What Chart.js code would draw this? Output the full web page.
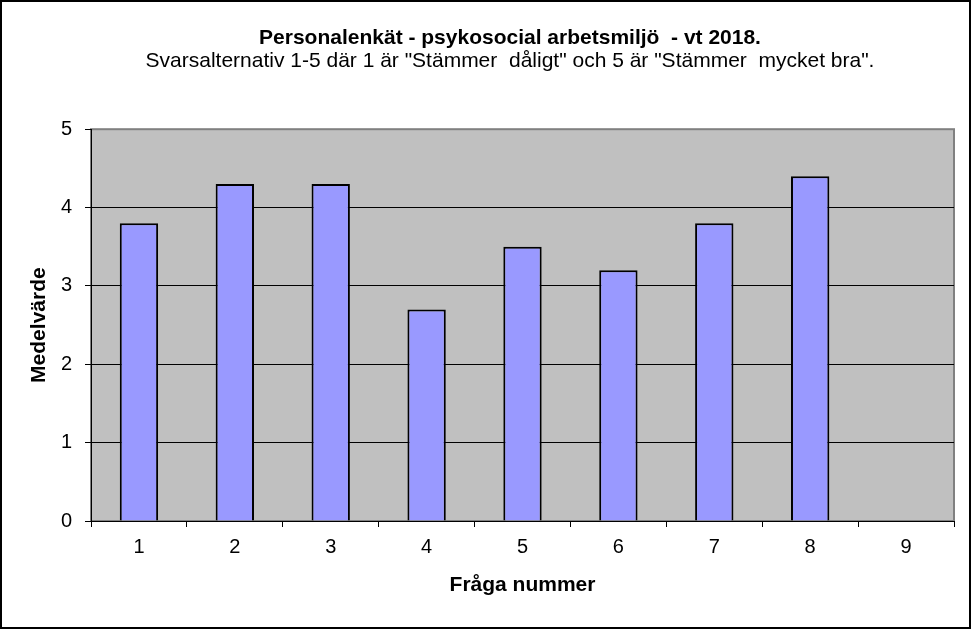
<!DOCTYPE html>
<html>
<head>
<meta charset="utf-8">
<script src="https://cdn.jsdelivr.net/npm/chart.js@4.4.0/dist/chart.umd.min.js"></script>
<style>
  body { margin: 0; background: #fff; }
  #wrap { width: 975px; height: 631px; }
</style>
</head>
<body>
<div id="wrap"><canvas id="medel"></canvas></div>
<script>
var fragor = ["1", "2", "3", "4", "5", "6", "7", "8", "9"];
var medelvarden = [3.8, 4.3, 4.3, 2.7, 3.5, 3.2, 3.8, 4.4, null];
var yTicks = [0, 1, 2, 3, 4, 5];

var rubrik = "Personalenkät - psykosocial arbetsmiljö  - vt 2018.";
var underrubrik = "Svarsalternativ 1-5 där 1 är \"Stämmer  dåligt\" och 5 är \"Stämmer  mycket bra\".";

var typsnitt = "Liberation Sans, Arial, sans-serif";

// gray plot area + outer frame
var bakgrund = {
  id: "bakgrund",
  afterLayout: function(chart) {
    // title + subtitle sit a bit right of the canvas centre in the original
    chart.boxes.forEach(function(b) {
      if (b.position === "top" && !b.axis) { b.left += 66; }
    });
  },
  beforeDraw: function(chart) {
    var ctx = chart.ctx, a = chart.chartArea;
    ctx.save();
    ctx.fillStyle = "#ffffff";
    ctx.fillRect(0, 0, chart.width, chart.height);
    ctx.strokeStyle = "#000000";
    ctx.lineWidth = 2;
    ctx.strokeRect(1, 1, 969, 627);
    ctx.fillStyle = "#c0c0c0";
    ctx.fillRect(a.left, a.top, a.right - a.left, a.bottom - a.top);
    ctx.strokeStyle = "#808080";
    ctx.lineWidth = 2;
    ctx.strokeRect(a.left, a.top, a.right - a.left, a.bottom - a.top);
    ctx.restore();
  }
};

var ctx = document.getElementById("medel").getContext("2d");
var chart = new Chart(ctx, {
  type: "bar",
  data: {
    labels: fragor,
    datasets: [
      {
        data: medelvarden,
        backgroundColor: "#9999ff",
        borderColor: "#000000",
        borderWidth: 2,
        barPercentage: 0.4,
        categoryPercentage: 1.0
      }
    ]
  },
  options: {
    responsive: true,
    maintainAspectRatio: false,
    animation: false,
    layout: { padding: { left: 0, right: 21, top: 0, bottom: 0 } },
    plugins: {
      legend: { display: false },
      tooltip: { enabled: false },
      title: {
        display: true,
        text: rubrik,
        color: "#000",
        font: { family: typsnitt, size: 21, weight: "bold", lineHeight: 1.1 },
        padding: { top: 27, bottom: 0 }
      },
      subtitle: {
        display: true,
        text: underrubrik,
        color: "#000",
        font: { family: typsnitt, size: 21, weight: "normal", lineHeight: 1.1 },
        padding: { top: 0, bottom: 56 }
      }
    },
    scales: {
      x: {
        afterFit: function(scale) { scale.height = 110; },
        grid: { display: true, drawOnChartArea: false, drawTicks: true, tickLength: 6, tickColor: "#000", offset: true },
        border: { display: true, color: "#000", width: 1 },
        ticks: { color: "#000", padding: 8, font: { family: typsnitt, size: 20 } },
        title: {
          display: true,
          text: "Fråga nummer",
          color: "#000",
          font: { family: typsnitt, size: 21, weight: "bold", lineHeight: 1.2 },
          padding: { top: 0, bottom: 33 }
        }
      },
      y: {
        min: 0,
        max: 5,
        afterFit: function(scale) { scale.width = 91; },
        afterBuildTicks: function(scale) { scale.ticks = yTicks.map(function(v) { return { value: v }; }); },
        grid: {
          color: function(c) { return c.tick && c.tick.value === 5 ? "rgba(0,0,0,0)" : "#000"; },
          lineWidth: 1,
          tickLength: 6,
          tickColor: "#000"
        },
        border: { display: true, color: "#000", width: 1 },
        ticks: { color: "#000", padding: 13, font: { family: typsnitt, size: 20 } },
        title: {
          display: true,
          text: "Medelvärde",
          color: "#000",
          font: { family: typsnitt, size: 21, weight: "bold", lineHeight: 1.2 },
          padding: { top: 27, bottom: 0 }
        }
      }
    }
  },
  plugins: [bakgrund]
});
</script>
</body>
</html>
